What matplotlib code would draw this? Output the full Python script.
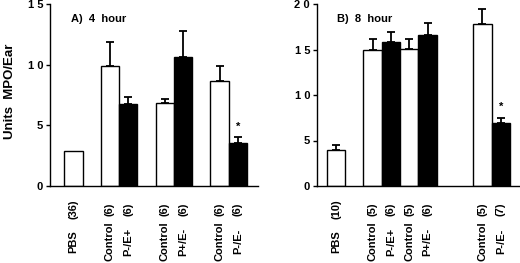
import numpy as np
import matplotlib.pyplot as plt

plt.rcParams['font.family'] = ['Liberation Sans', 'DejaVu Sans']
plt.rcParams['font.weight'] = 'bold'

# panel A: 4 hour
names = ['PBS', 'Control', 'P-/E+', 'Control', 'P+/E-', 'Control', 'P-/E-']
fills = ['white', 'white', 'black', 'white', 'black', 'white', 'black']
pos_a = [0, 2, 3, 5, 6, 8, 9]
val_a = [2.85, 9.85, 6.75, 6.82, 10.65, 8.65, 3.55]
err_a = [0, 2.0, 0.55, 0.33, 2.1, 1.25, 0.5]
n_a = ['(36)', '(6)', '(6)', '(6)', '(6)', '(6)', '(6)']

# panel B: 8 hour
pos_b = [0, 2, 3, 4, 5, 8, 9]
val_b = [3.93, 14.95, 15.85, 15.05, 16.6, 17.85, 6.95]
err_b = [0.6, 1.15, 1.05, 1.05, 1.3, 1.55, 0.55]
n_b = ['(10)', '(5)', '(6)', '(5)', '(6)', '(5)', '(7)']

fig = plt.figure(figsize=(5.2, 2.63), dpi=100)
axA = fig.add_axes([50/520, 1-186/263, 208/520, 182/263])
axB = fig.add_axes([317/520, 1-186/263, 203/520, 182/263])


def panel(ax, pos, vals, errs, counts, ymax, yticks, ytl, xlim, title, star):
    ax.bar(pos, vals, width=1.0, color=fills, edgecolor='black', linewidth=1.0, zorder=2)
    for p, v, e in zip(pos, vals, errs):
        if e > 0:
            ax.errorbar(p, v, yerr=[[0], [e]], fmt='none', ecolor='black',
                        elinewidth=1.3, capsize=3.2, capthick=1.3, zorder=1)
    ax.set_xlim(*xlim)
    ax.set_ylim(0, ymax)
    ax.set_yticks(yticks)
    ax.set_yticklabels(ytl, fontsize=8, fontweight='bold')
    ax.set_xticks([])
    for s in ['top', 'right']:
        ax.spines[s].set_visible(False)
    ax.spines['left'].set_linewidth(1.0)
    ax.spines['bottom'].set_linewidth(1.0)
    ax.tick_params(axis='y', length=3, width=1.0, pad=2)
    tr = ax.get_xaxis_transform()
    for p, nm, c in zip(pos, names, counts):
        ax.text(p, -0.128, c, rotation=90, ha='center', va='center',
                fontsize=8, fontweight='bold', transform=tr)
        ax.text(p, -0.305, nm, rotation=90, ha='center', va='center',
                fontsize=8, fontweight='bold', transform=tr)
    ax.text(0.1, 0.92, title, transform=ax.transAxes, fontsize=8,
            fontweight='bold', ha='left', va='center')
    ax.text(pos[-1], star, '*', ha='center', va='center', fontsize=8, fontweight='bold')


panel(axA, pos_a, val_a, err_a, n_a, 15, [0, 5, 10, 15], ['0', '5', '1 0', '1 5'],
      (-1.28, 10.1), 'A)  4  hour', 4.85)
panel(axB, pos_b, val_b, err_b, n_b, 20, [0, 5, 10, 15, 20], ['0', '5', '1 0', '1 5', '2 0'],
      (-1.04, 10.05), 'B)  8  hour', 8.7)

fig.text(10/520, 1-91/263, 'Units  MPO/Ear', rotation=90, ha='center', va='center',
         fontsize=9.5, fontweight='bold')

fig.savefig('out.png', dpi=100)
